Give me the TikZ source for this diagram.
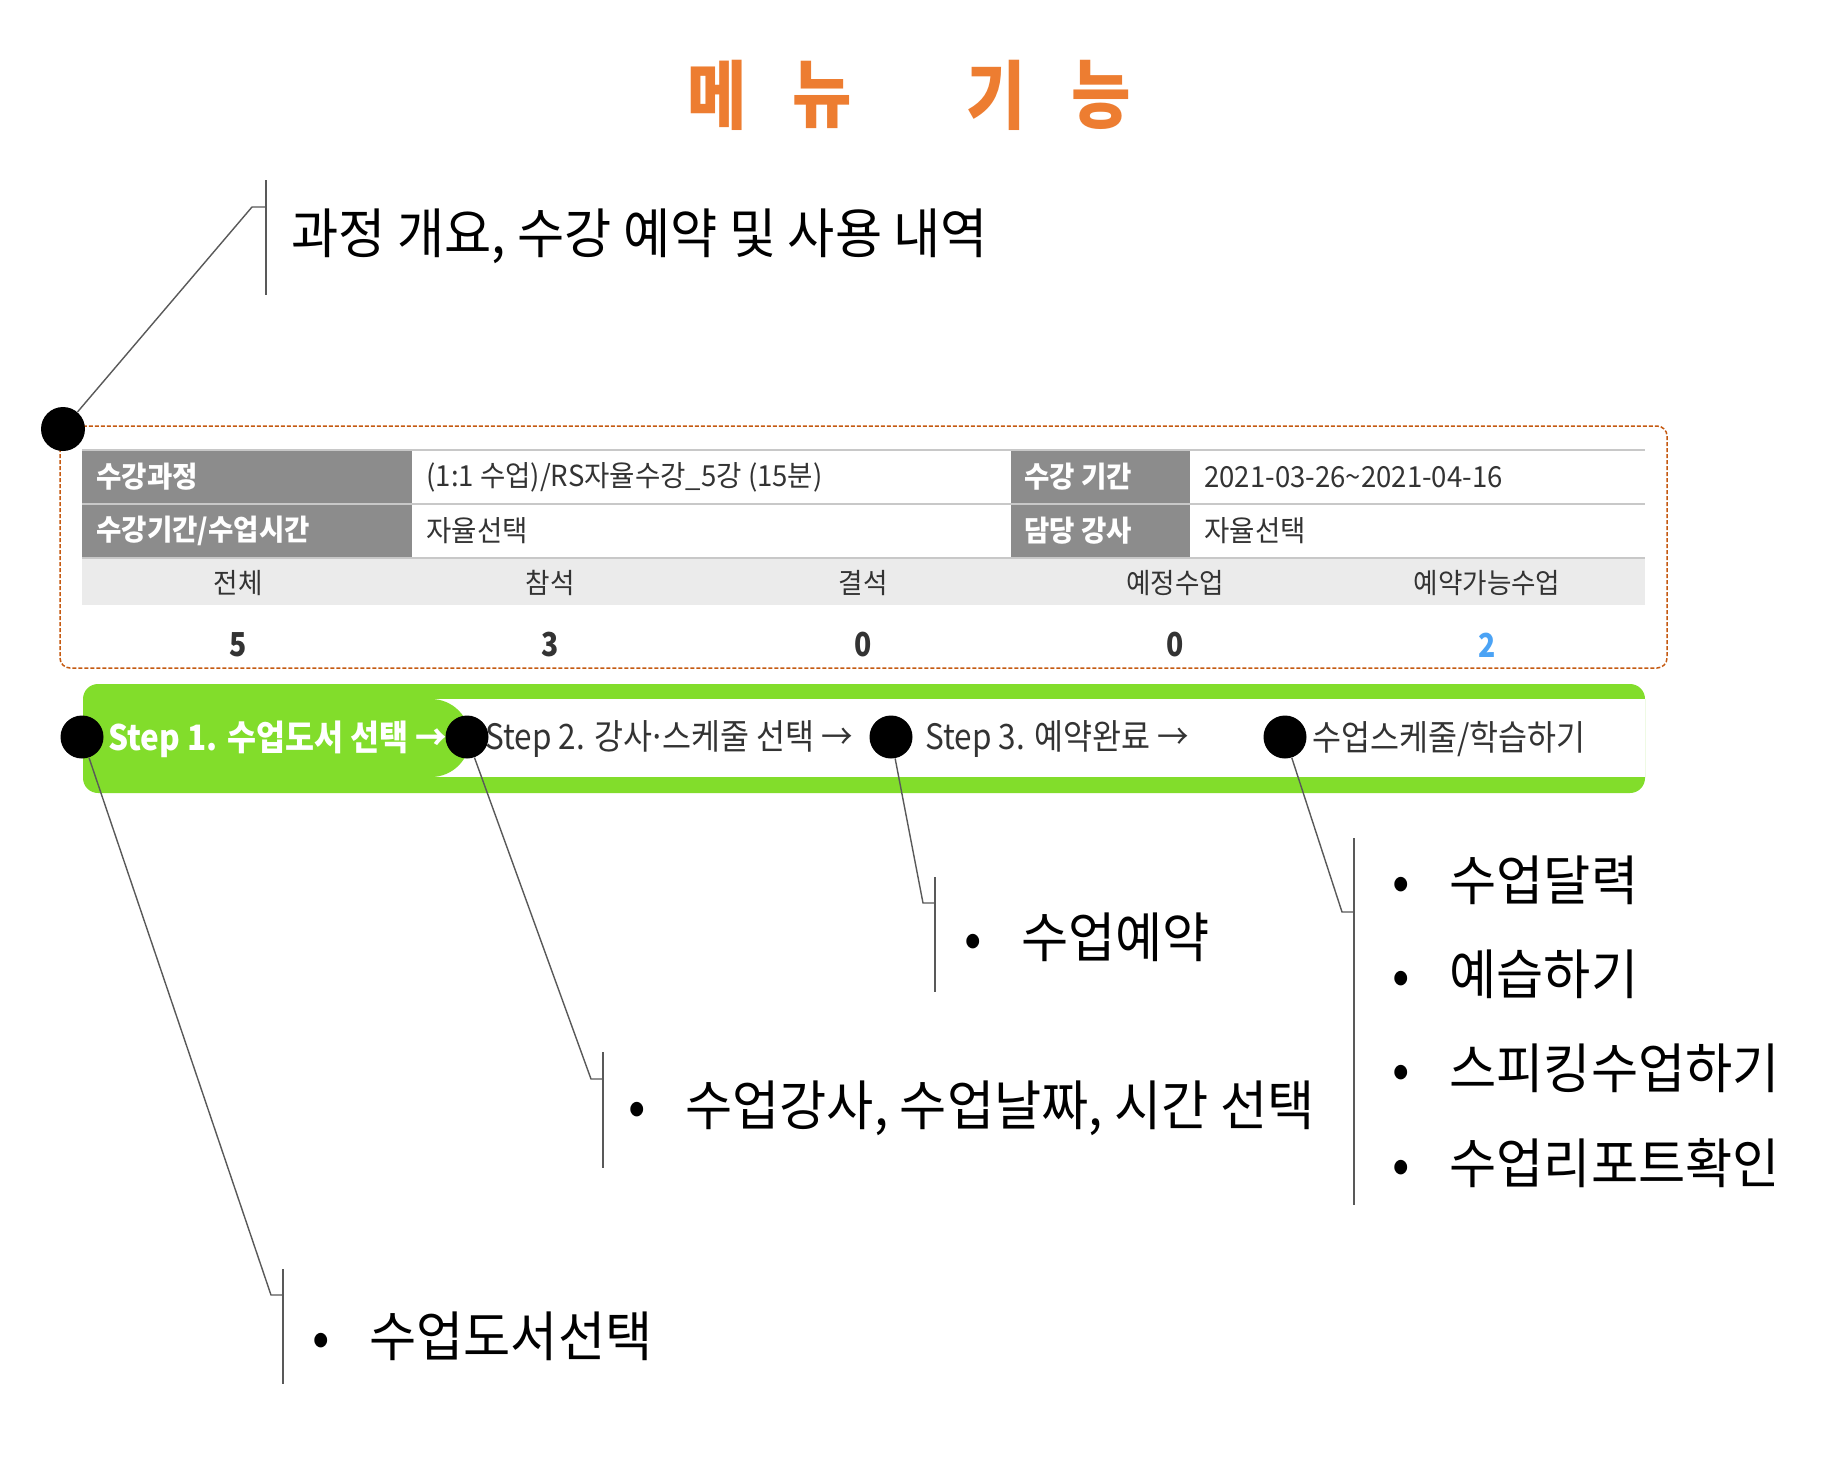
\documentclass[tikz,border=0pt]{standalone}
\usepackage{fontspec}
\setmainfont{Noto Sans CJK KR}[FakeStretch=0.95]
\newfontfamily\narrowfont{Noto Sans CJK KR}[FakeStretch=0.86]
\newfontfamily\stepfont{Noto Sans CJK KR}[FakeStretch=0.9]
\newfontfamily\callfont{Noto Sans CJK KR}[FakeStretch=0.95]
\definecolor{ttlorange}{HTML}{ED7D31}
\definecolor{boxorange}{HTML}{C55A11}
\definecolor{hdrgray}{HTML}{8C8C8C}
\definecolor{rowgray}{HTML}{EBEBEB}
\definecolor{linegray}{HTML}{C8C8C8}
\definecolor{barG}{HTML}{82DD2B}
\definecolor{numblue}{HTML}{4BA3F5}
\definecolor{txtdark}{HTML}{333333}
\definecolor{callgray}{HTML}{595959}
\newcommand{\tdot}{\makebox[0.3em][c]{·}}
\begin{document}
\begin{tikzpicture}[x=0.5pt,y=-0.5pt,
  ttl/.style={inner sep=0pt, text=ttlorange, font=\narrowfont\fontsize{37.5pt}{40pt}\selectfont\bfseries},
  boxdash/.style={draw=boxorange, line width=0.75pt, dash pattern=on 2pt off 1pt, rounded corners=5pt},
  tline/.style={draw=linegray, line width=1pt},
  hcell/.style={anchor=west, inner sep=0pt, text=white, font=\fontsize{14.5pt}{17pt}\selectfont\bfseries},
  bcell/.style={anchor=west, inner sep=0pt, text=txtdark, font=\fontsize{14.5pt}{17pt}\selectfont},
  colhd/.style={inner sep=0pt, text=txtdark, font=\fontsize{14pt}{17pt}\selectfont},
  num/.style={inner sep=0pt, text=txtdark, font=\narrowfont\fontsize{16.5pt}{19pt}\selectfont\bfseries},
  steptxt/.style={anchor=west, inner sep=0pt, text=txtdark, font=\stepfont\fontsize{17.5pt}{21pt}\selectfont},
  dot/.style={circle, fill=black, inner sep=0pt, minimum size=21.5pt},
  cline/.style={draw=callgray, line width=0.7pt},
  calltxt/.style={anchor=west, inner sep=0pt, text=black, font=\callfont\fontsize{27pt}{31pt}\selectfont},
  item/.style={anchor=west, inner sep=0pt, text=black, font=\callfont\fontsize{27pt}{31pt}\selectfont}
]
\useasboundingbox (0,0) rectangle (1835,1467);
\fill[white] (0,0) rectangle (1835,1467);

% title
\node[ttl] (m1) at (717,95) {메};
\node[ttl] (m2) at (822,95) {뉴};
\node[ttl] (m3) at (996,95) {기};
\node[ttl] (m4) at (1101,95) {능};

% dashed frame
\draw[boxdash] (60,426) rectangle (1667,668);

% table
\fill[rowgray] (82,558) rectangle (1645,605);
\fill[hdrgray] (82,451) rectangle (412,557);
\fill[hdrgray] (1011,451) rectangle (1190,557);
\draw[tline] (82,450) -- (1645,450);
\draw[tline] (82,503.5) -- (1645,503.5);
\draw[tline] (82,557.5) -- (1645,557.5);

\node[hcell] (h1) at (96,477) {수강과정};
\node[hcell] (h2) at (96,531) {수강기간/수업시간};
\node[hcell] (h3) at (1024,477) {수강 기간};
\node[hcell] (h4) at (1024,531) {담당 강사};
\node[bcell] (v1) at (426,477) {(1:1 수업)/RS자율수강\_5강 (15분)};
\node[bcell] (v2) at (426,531) {자율선택};
\node[bcell] (v3) at (1204,477) {2021-03-26\textasciitilde 2021-04-16};
\node[bcell] (v4) at (1204,531) {자율선택};

\node[colhd] (k1) at (238,583) {전체};
\node[colhd] (k2) at (550,583) {참석};
\node[colhd] (k3) at (863,583) {결석};
\node[colhd] (k4) at (1175,583) {예정수업};
\node[colhd] (k5) at (1487,583) {예약가능수업};

\node[num] (n1) at (238,645) {5};
\node[num] (n2) at (550,645) {3};
\node[num] (n3) at (863,645) {0};
\node[num] (n4) at (1175,645) {0};
\node[num, text=numblue] (n5) at (1487,645) {2};

% green step bar
\fill[barG, rounded corners=7.5pt] (83,684) rectangle (1645,793);
\fill[white] (431,699) rectangle (1645,777);
\fill[barG] (431,738) circle[radius=19.5pt];

\node[steptxt, text=white, font=\stepfont\fontsize{17.5pt}{21pt}\selectfont\bfseries] (s1) at (108,739) {Step 1. 수업도서 선택 →};
\node[steptxt] (s2) at (485,739) {Step 2. 강사\tdot 스케줄 선택 →};
\node[steptxt] (s3) at (925,739) {Step 3. 예약완료 →};
\node[steptxt] (s4) at (1312,739) {수업스케줄/학습하기};

% dots
\node[dot, minimum size=22pt] (d0) at (63,429) {};
\node[dot] (d1) at (82,737) {};
\node[dot] (d2) at (467,737) {};
\node[dot] (d3) at (891,737) {};
\node[dot] (d4) at (1285,737) {};

% callout coordinates
\coordinate (c0a) at (252,207); \coordinate (c0b) at (266,207);
\coordinate (b0t) at (266,180); \coordinate (b0b) at (266,295);
\coordinate (c1a) at (271,1295); \coordinate (c1b) at (283,1295);
\coordinate (b1t) at (283,1269); \coordinate (b1b) at (283,1384);
\coordinate (c2a) at (591,1079); \coordinate (c2b) at (603,1079);
\coordinate (b2t) at (603,1052); \coordinate (b2b) at (603,1168);
\coordinate (c3a) at (923,903); \coordinate (c3b) at (935,903);
\coordinate (b3t) at (935,877); \coordinate (b3b) at (935,992);
\coordinate (c4a) at (1342,912); \coordinate (c4b) at (1354,912);
\coordinate (b4t) at (1354,838); \coordinate (b4b) at (1354,1205);

\draw[cline] (d0) -- (c0a) -- (c0b);
\draw[cline] (b0t) -- (b0b);
\draw[cline] (d1) -- (c1a) -- (c1b);
\draw[cline] (b1t) -- (b1b);
\draw[cline] (d2) -- (c2a) -- (c2b);
\draw[cline] (b2t) -- (b2b);
\draw[cline] (d3) -- (c3a) -- (c3b);
\draw[cline] (b3t) -- (b3b);
\draw[cline] (d4) -- (c4a) -- (c4b);
\draw[cline] (b4t) -- (b4b);

% callout texts
\node[calltxt] (t0) at (291,236) {과정 개요, 수강 예약 및 사용 내역};
\node[item] (t1) at (312,1336) {\makebox[28.5pt][l]{•}수업도서선택};
\node[item] (t2) at (628,1108) {\makebox[28.5pt][l]{•}수업강사, 수업날짜, 시간 선택};
\node[item] (t3) at (964,937) {\makebox[28.5pt][l]{•}수업예약};
\node[item] (t4a) at (1392,880) {\makebox[28.5pt][l]{•}수업달력};
\node[item] (t4b) at (1392,974) {\makebox[28.5pt][l]{•}예습하기};
\node[item] (t4c) at (1392,1068) {\makebox[28.5pt][l]{•}스피킹수업하기};
\node[item] (t4d) at (1392,1163) {\makebox[28.5pt][l]{•}수업리포트확인};
\end{tikzpicture}
\end{document}
